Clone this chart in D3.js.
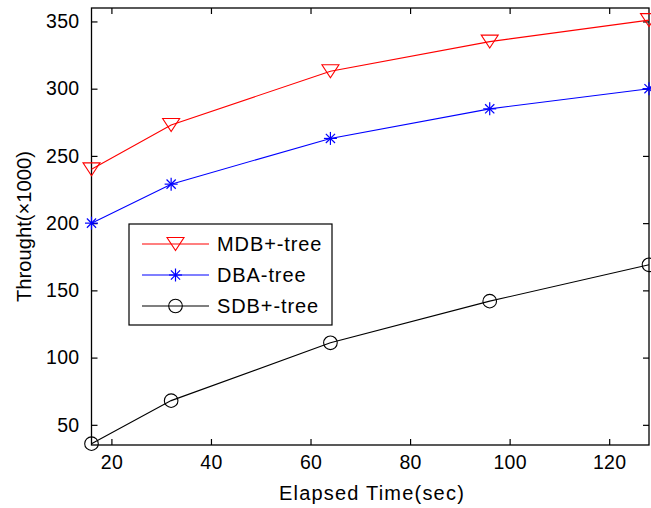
<!DOCTYPE html>
<html>
<head>
<meta charset="utf-8">
<script src="https://cdn.jsdelivr.net/npm/d3@7"></script>
<style>
  html, body { margin: 0; padding: 0; background: #fff; }
  text { font-family: "Liberation Sans", Arial, sans-serif; fill: #000; }
</style>
</head>
<body>
<svg id="chart" width="651" height="508"></svg>
<script>
// Elapsed time (sec) at which throughput was sampled
const elapsed = [16, 32, 64, 96, 128];

// Throughput (x1000) per index structure
const mdbTree = [240, 273, 313, 335, 351];
const dbaTree = [200, 229, 263, 285, 300];
const sdbTree = [36, 68, 111, 142, 169];

const seriesNames = ["MDB+-tree", "DBA-tree", "SDB+-tree"];
const seriesColors = ["#ff0000", "#0000ff", "#000000"];
const seriesMarkers = ["triangleDown", "asterisk", "circle"];

const xTicks = [20, 40, 60, 80, 100, 120];
const yTicks = [50, 100, 150, 200, 250, 300, 350];

const svg = d3.select("#chart");
const L = 91.5, R = 649, T = 8, B = 445;

const x = d3.scaleLinear().domain([16, 128]).range([L, R]);
const y = d3.scaleLinear().domain([35, 360]).range([B, T]);

const series = [mdbTree, dbaTree, sdbTree].map((vals, i) => ({
  name: seriesNames[i], color: seriesColors[i], marker: seriesMarkers[i],
  points: vals.map((v, j) => [elapsed[j], v])
}));

// Axis frame with inward ticks on all four sides
const tickLen = 6;
const axB = d3.axisBottom(x).tickValues(xTicks).tickSizeInner(-tickLen).tickSizeOuter(0).tickPadding(10);
const axT = d3.axisTop(x).tickValues(xTicks).tickSizeInner(-tickLen).tickSizeOuter(0).tickFormat("");
const axL = d3.axisLeft(y).tickValues(yTicks).tickSizeInner(-tickLen).tickSizeOuter(0).tickPadding(12);
const axR = d3.axisRight(y).tickValues(yTicks).tickSizeInner(-tickLen).tickSizeOuter(0).tickFormat("");

function styleAxis(g) {
  g.select(".domain").remove();
  g.selectAll(".tick line").attr("stroke", "#000").attr("stroke-width", 1.2);
  g.selectAll(".tick text").attr("font-size", 19.5).attr("letter-spacing", 0.3)
    .attr("font-family", "Liberation Sans, Arial, sans-serif").attr("fill", "#000");
}

svg.append("g").attr("transform", `translate(0,${B})`).call(axB).call(styleAxis);
svg.append("g").attr("transform", `translate(0,${T})`).call(axT).call(styleAxis);
svg.append("g").attr("transform", `translate(${L},0)`).call(axL).call(styleAxis);
svg.append("g").attr("transform", `translate(${R},0)`).call(axR).call(styleAxis);

svg.append("rect")
  .attr("x", L).attr("y", T).attr("width", R - L).attr("height", B - T)
  .attr("fill", "none").attr("stroke", "#000").attr("stroke-width", 1.3);

// Marker drawing helpers
function drawMarker(g, kind, color, cx, cy) {
  if (kind === "triangleDown") {
    const w = 8.5, h = 6.5;
    g.append("path")
      .attr("d", `M${cx - w},${cy - h}L${cx + w},${cy - h}L${cx},${cy + h}Z`)
      .attr("fill", "none").attr("stroke", color).attr("stroke-width", 1.1);
  } else if (kind === "asterisk") {
    const r = 6.5, d = r * Math.SQRT1_2;
    const segs = [[-r, 0, r, 0], [0, -r, 0, r], [-d, -d, d, d], [-d, d, d, -d]];
    segs.forEach(s => g.append("line")
      .attr("x1", cx + s[0]).attr("y1", cy + s[1]).attr("x2", cx + s[2]).attr("y2", cy + s[3])
      .attr("stroke", color).attr("stroke-width", 1.2));
  } else {
    g.append("circle").attr("cx", cx).attr("cy", cy).attr("r", 6.8)
      .attr("fill", "none").attr("stroke", color).attr("stroke-width", 1.1);
  }
}

const line = d3.line().x(d => x(d[0])).y(d => y(d[1]));

series.forEach(s => {
  const g = svg.append("g");
  g.append("path").datum(s.points).attr("d", line)
    .attr("fill", "none").attr("stroke", s.color).attr("stroke-width", 1.1);
  s.points.forEach(p => drawMarker(g, s.marker, s.color, x(p[0]), y(p[1])));
});

// Legend
const lg = svg.append("g");
lg.append("rect").attr("x", 129).attr("y", 224).attr("width", 203).attr("height", 101)
  .attr("fill", "#fff").attr("stroke", "#000").attr("stroke-width", 1.2);
series.forEach((s, i) => {
  const cy = 244 + i * 31;
  lg.append("line").attr("x1", 142).attr("x2", 209).attr("y1", cy).attr("y2", cy)
    .attr("stroke", s.color).attr("stroke-width", 1.1);
  drawMarker(lg, s.marker, s.color, 175.5, cy);
  lg.append("text").attr("x", 217).attr("y", cy + 7).attr("font-size", 20)
    .attr("letter-spacing", 0.9).text(s.name);
});

// Axis titles
svg.append("text").attr("x", 372).attr("y", 500).attr("text-anchor", "middle")
  .attr("font-size", 20).attr("letter-spacing", 1.2).text("Elapsed Time(sec)");
svg.append("text").attr("transform", `translate(31,${(T + B) / 2}) rotate(-90)`)
  .attr("text-anchor", "middle").attr("font-size", 20.2).text("Throught(×1000)");
</script>
</body>
</html>
